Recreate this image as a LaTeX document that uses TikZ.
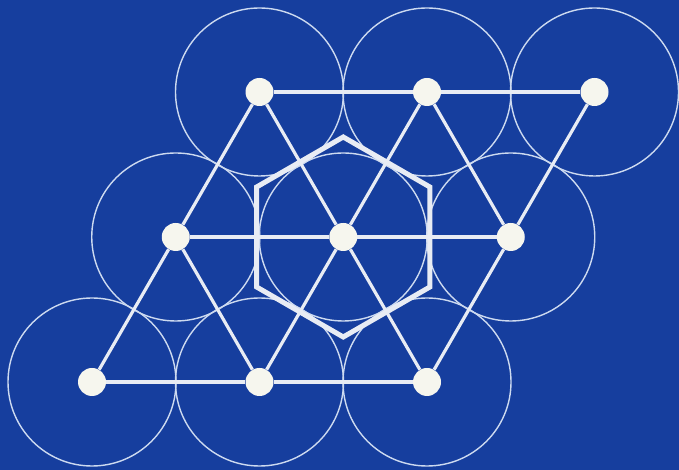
\documentclass[tikz,border=0pt]{standalone}
\usepackage{xcolor}
\usepackage{tikz}
\usetikzlibrary{positioning,backgrounds,calc}

\definecolor{bgblue}{RGB}{22,62,158}
\definecolor{dotwhite}{RGB}{246,246,238}
\definecolor{ringwhite}{RGB}{205,218,240}
\definecolor{linewhite}{RGB}{232,236,244}

\begin{document}
\begin{tikzpicture}[
    x=1pt, y=1pt,
    site/.style={circle, fill=dotwhite, inner sep=0pt, minimum size=28pt},
    ring/.style={draw=ringwhite, line width=1.4pt},
    bond/.style={draw=linewhite, line width=3.2pt},
    cell/.style={draw=linewhite, line width=5pt, line join=miter}
]
    % Background
    \fill[bgblue] (0,0) rectangle (679,470);
    \useasboundingbox (0,0) rectangle (679,470);

    % Lattice sites
    \foreach \i in {0,1,2} {
        \foreach \j in {0,1,2} {
            \coordinate (c-\i-\j) at ({92+167.5*\i+83.75*\j},{88+145*\j});
        }
    }

    % Circles round the sites
    \foreach \i in {0,1,2} {
        \foreach \j in {0,1,2} {
            \draw[ring] (c-\i-\j) circle (84);
        }
    }

    % Hexagon round the centre site
    \draw[cell] ($(c-1-1)+(90:100)$) -- ($(c-1-1)+(150:100)$) -- ($(c-1-1)+(210:100)$)
        -- ($(c-1-1)+(270:100)$) -- ($(c-1-1)+(330:100)$) -- ($(c-1-1)+(30:100)$) -- cycle;

    % Sites
    \foreach \i in {0,1,2} {
        \foreach \j in {0,1,2} {
            \node[site] (p-\i-\j) at (c-\i-\j) {};
        }
    }

    % Bonds
    \foreach \j in {0,1,2} {
        \draw[bond] (p-0-\j) -- (p-1-\j);
        \draw[bond] (p-1-\j) -- (p-2-\j);
    }
    \foreach \i in {0,1,2} {
        \draw[bond] (p-\i-0) -- (p-\i-1);
        \draw[bond] (p-\i-1) -- (p-\i-2);
    }
    \draw[bond] (p-1-0) -- (p-0-1);
    \draw[bond] (p-2-0) -- (p-1-1);
    \draw[bond] (p-1-1) -- (p-0-2);
    \draw[bond] (p-2-1) -- (p-1-2);

\end{tikzpicture}
\end{document}
